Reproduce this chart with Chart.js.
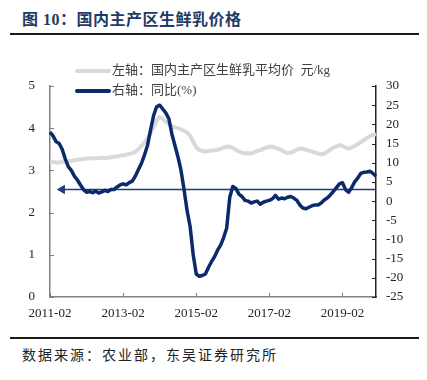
<!DOCTYPE html>
<html>
<head>
<meta charset="utf-8">
<script src="https://cdn.jsdelivr.net/npm/chart.js@4.4.1/dist/chart.umd.min.js"></script>
<style>
    body { margin: 0; background: #fff; }
    #page { position: relative; width: 427px; height: 380px; overflow: hidden; font-family: "Liberation Serif", "Noto Sans CJK SC", serif; }
    #title { position: absolute; left: 22px; top: 6px; font-size: 16px; font-weight: bold; color: #1f3a63; white-space: nowrap; letter-spacing: 0.5px; }
    .rule { position: absolute; left: 10px; width: 409px; height: 2px; background: #1a1a1a; }
    #chart-box { position: absolute; left: 0; top: 40px; width: 427px; height: 290px; }
    .legend-row { position: absolute; left: 75px; font-size: 13px; color: #404040; white-space: nowrap; }
    .legend-row span.swatch { display: inline-block; width: 36px; height: 4px; vertical-align: middle; margin-right: 1px; border-radius: 2px; }
    #source { position: absolute; left: 22px; top: 344px; font-size: 14px; letter-spacing: 2px; color: #222; white-space: nowrap; }
</style>
</head>
<body>
<div id="page">
    <div id="title">图 10：国内主产区生鲜乳价格</div>
    <div class="rule" style="top: 33px;"></div>
    <div id="chart-box"><canvas id="milk-chart" width="427" height="290"></canvas></div>
    <div class="legend-row" style="top: 59px;"><span class="swatch" style="background:#d9d9d9"></span>左轴：国内主产区生鲜乳平均价&nbsp; 元/kg</div>
    <div class="legend-row" style="top: 79px;"><span class="swatch" style="background:#0b2a6b"></span>右轴：同比(%)</div>
    <div class="rule" style="top: 337px;"></div>
    <div id="source">数据来源：农业部，东吴证券研究所</div>
</div>
<script>
// monthly, 2011-02 .. 2020-01
const firstYear = 2011;
const firstMonth = 2;
const monthCount = 108;

const tickLabels = ['2011-02', '2013-02', '2015-02', '2017-02', '2019-02'];

// 国内主产区生鲜乳平均价 (元/kg), left axis
const price = [
    3.21, 3.20, 3.19, 3.19, 3.20, 3.21, 3.22, 3.23, 3.24, 3.25,
    3.26, 3.27, 3.28, 3.28, 3.29, 3.29, 3.29, 3.30, 3.29, 3.30,
    3.31, 3.32, 3.33, 3.35, 3.36, 3.37, 3.39, 3.41, 3.44, 3.50,
    3.58, 3.66, 3.76, 3.88, 4.02, 4.18, 4.27, 4.22, 4.15, 4.10,
    4.05, 4.02, 4.00, 3.97, 3.94, 3.90, 3.82, 3.68, 3.55, 3.48,
    3.46, 3.45, 3.46, 3.47, 3.48, 3.49, 3.51, 3.54, 3.56, 3.56,
    3.53, 3.49, 3.45, 3.42, 3.40, 3.41, 3.40, 3.43, 3.46, 3.48,
    3.51, 3.54, 3.56, 3.56, 3.54, 3.51, 3.48, 3.44, 3.41, 3.42,
    3.45, 3.49, 3.52, 3.51, 3.49, 3.47, 3.45, 3.42, 3.40, 3.38,
    3.40, 3.44, 3.49, 3.54, 3.57, 3.60, 3.58, 3.54, 3.52, 3.54,
    3.58, 3.62, 3.67, 3.72, 3.77, 3.81, 3.84, 3.86
];

// 同比 (%), right axis
const yoy = [
    18, 17, 15.5, 15, 13.5, 11, 9, 8, 6.5, 5.5,
    4.2, 3, 2.3, 2.5, 2.2, 2.6, 2.1, 2.4, 2.8, 2.5,
    3.0, 3.0, 3.7, 4.2, 4.5, 4.2, 4.8, 5.2, 6.5, 8.2,
    9.8, 12, 14.5, 18.5, 22.3, 24.6, 25, 24, 23, 21.5,
    17.5, 14.5, 11.5, 8, 3, -2.5, -6.7, -14, -19, -19.6,
    -19.4, -19, -17.3, -15.8, -14.5, -12.8, -11.5, -9.5, -7, 1,
    3.8, 3.3, 1.8, 1.2, 0.2, 0, -0.5, -0.2, 0, -0.8,
    -0.3, 0, 0.2, 0.6, 1.5, 0.5, 0.8, 0.6, 1, 1.2,
    0.8, 0.2, -1, -1.8, -2, -1.6, -1.2, -1, -1, -0.5,
    0.3, 0.8, 1.6, 2.5, 3.5, 4.5, 4.8, 3, 2.3, 3.5,
    5, 6, 7.2, 7.5, 7.6, 7.8, 7.2, 6.5
];

// horizontal arrow marker on the right axis
const arrowLevel = 3;
const arrowStart = 4;

const months = [];
for (let i = 0; i < monthCount; i++) {
    const m = firstMonth - 1 + i;
    const y = firstYear + Math.floor(m / 12);
    months.push(y + '-' + String(m % 12 + 1).padStart(2, '0'));
}
const arrowLine = months.map((m, i) => (i >= arrowStart ? arrowLevel : null));

const tickFont = { family: '"Liberation Serif", serif', size: 13 };
const NAVY = '#0b2a6b';

// short tick marks drawn inside the plot, like the original
const innerTicks = {
    id: 'innerTicks',
    afterDraw(chart) {
        const { ctx, chartArea, scales } = chart;
        ctx.save();
        ctx.lineWidth = 1;

        ctx.strokeStyle = '#808080';
        scales.y.ticks.forEach(t => {
            const py = Math.round(scales.y.getPixelForValue(t.value)) + 0.5;
            ctx.beginPath();
            ctx.moveTo(chartArea.left, py);
            ctx.lineTo(chartArea.left + 4, py);
            ctx.stroke();
        });

        ctx.strokeStyle = '#222';
        scales.y1.ticks.forEach(t => {
            const py = Math.round(scales.y1.getPixelForValue(t.value)) + 0.5;
            ctx.beginPath();
            ctx.moveTo(chartArea.right - 4, py);
            ctx.lineTo(chartArea.right, py);
            ctx.stroke();
        });

        ctx.strokeStyle = '#808080';
        tickLabels.forEach(lbl => {
            const px = Math.round(scales.x.getPixelForValue(months.indexOf(lbl))) + 0.5;
            ctx.beginPath();
            ctx.moveTo(px, chartArea.bottom);
            ctx.lineTo(px, chartArea.bottom - 4);
            ctx.stroke();
        });
        ctx.restore();
    }
};

document.addEventListener('DOMContentLoaded', function () {
    const ctx = document.getElementById('milk-chart').getContext('2d');
    new Chart(ctx, {
        type: 'line',
        data: {
            labels: months,
            datasets: [
                {
                    label: '右轴：同比(%)',
                    data: yoy,
                    yAxisID: 'y1',
                    borderColor: NAVY,
                    borderWidth: 3.5,
                    pointRadius: 0,
                    borderJoinStyle: 'round',
                    order: 1
                },
                {
                    label: 'arrow',
                    data: arrowLine,
                    yAxisID: 'y1',
                    borderColor: '#1f3d7a',
                    backgroundColor: '#1f3d7a',
                    borderWidth: 1.5,
                    pointStyle: 'triangle',
                    pointRotation: 270,
                    pointRadius: c => (c.dataIndex === arrowStart ? 5.5 : 0),
                    pointBorderWidth: 0,
                    order: 2
                },
                {
                    label: '左轴：国内主产区生鲜乳平均价  元/kg',
                    data: price,
                    yAxisID: 'y',
                    borderColor: '#d9d9d9',
                    borderWidth: 4,
                    pointRadius: 0,
                    borderJoinStyle: 'round',
                    order: 3
                }
            ]
        },
        options: {
            responsive: false,
            animation: false,
            layout: { padding: { top: 46, left: 0, right: 0, bottom: 0 } },
            plugins: {
                legend: { display: false },
                tooltip: { enabled: false }
            },
            scales: {
                x: {
                    offset: false,
                    grid: { display: false, drawTicks: false },
                    border: { color: '#808080', width: 1.5 },
                    ticks: {
                        autoSkip: false,
                        maxRotation: 0,
                        padding: 9,
                        color: '#222',
                        font: tickFont,
                        callback: function (v, i) {
                            const lbl = months[i];
                            return tickLabels.includes(lbl) ? lbl : '';
                        }
                    },
                    afterFit: s => { s.height = 33; }
                },
                y: {
                    position: 'left',
                    min: 0,
                    max: 5,
                    grid: { display: false, drawTicks: false },
                    border: { color: '#808080', width: 1.5 },
                    ticks: { stepSize: 1, padding: 15, color: '#222', font: tickFont },
                    afterFit: s => { s.width = 50; }
                },
                y1: {
                    position: 'right',
                    min: -25,
                    max: 30,
                    grid: { display: false, drawTicks: false },
                    border: { color: '#222', width: 1.5 },
                    ticks: { stepSize: 5, padding: 10, color: '#222', font: tickFont },
                    afterFit: s => { s.width = 51; }
                }
            }
        },
        plugins: [innerTicks]
    });
});
</script>
</body>
</html>
